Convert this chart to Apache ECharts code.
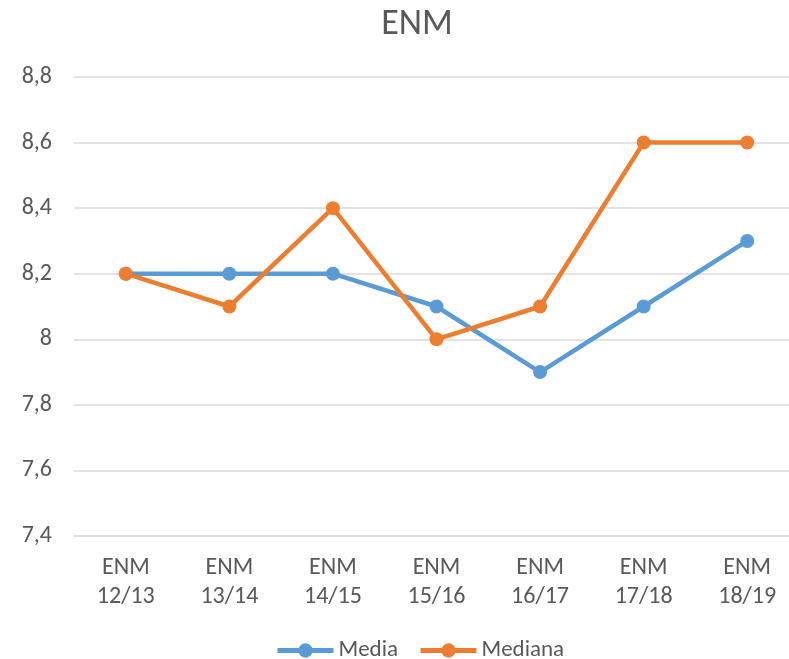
<!DOCTYPE html>
<html><head><meta charset="utf-8">
<script src="https://cdn.jsdelivr.net/npm/echarts@6/dist/echarts.min.js"></script>
<style>html,body{margin:0;padding:0;background:#fff;overflow:hidden}#c{width:800px;height:659px}</style>
</head><body><div id="c"></div>
<script>
const categories = ['ENM\n12/13','ENM\n13/14','ENM\n14/15','ENM\n15/16','ENM\n16/17','ENM\n17/18','ENM\n18/19'];
const media = [8.2, 8.2, 8.2, 8.1, 7.9, 8.1, 8.3];
const mediana = [8.2, 8.1, 8.4, 8.0, 8.1, 8.6, 8.6];
const font = 'Carlito, "Open Sans", Lato, sans-serif';
const chart = echarts.init(document.getElementById('c'));
chart.setOption({
  animation: false,
  title: {text: 'ENM', left: 412, top: 2, textAlign: 'center', textStyle: {fontFamily: font, fontSize: 36, fontWeight: 'normal', color: '#595959'}},
  grid: {left: 74, top: 77, right: 1, bottom: 123, containLabel: false},
  legend: {top: 634, left: 270, itemWidth: 56, itemHeight: 18, itemGap: 20,
    lineStyle: {width: 5},
    textStyle: {fontFamily: font, fontSize: 23, color: '#595959'}, data: ['Media','Mediana']},
  xAxis: {type: 'category', data: categories, boundaryGap: true,
    axisLine: {lineStyle: {color: '#d9d9d9', width: 1.5}}, axisTick: {show: false},
    axisLabel: {fontFamily: font, fontSize: 24, color: '#595959', margin: 17, lineHeight: 29, interval: 0}},
  yAxis: {type: 'value', min: 7.4, max: 8.8, interval: 0.2,
    axisLine: {show: false}, axisTick: {show: false},
    splitLine: {lineStyle: {color: '#d9d9d9', width: 1.5}},
    axisLabel: {fontFamily: font, fontSize: 24, color: '#595959', margin: 22,
      formatter: v => String(Math.round(v * 10) / 10).replace('.', ',')}},
  series: [
    {name: 'Media', type: 'line', data: media, symbol: 'circle', symbolSize: 14,
      lineStyle: {width: 4.5, color: '#5B9BD5'}, itemStyle: {color: '#5B9BD5'}},
    {name: 'Mediana', type: 'line', data: mediana, symbol: 'circle', symbolSize: 14,
      lineStyle: {width: 4.5, color: '#ED7D31'}, itemStyle: {color: '#ED7D31'}}
  ]
});
</script></body></html>
